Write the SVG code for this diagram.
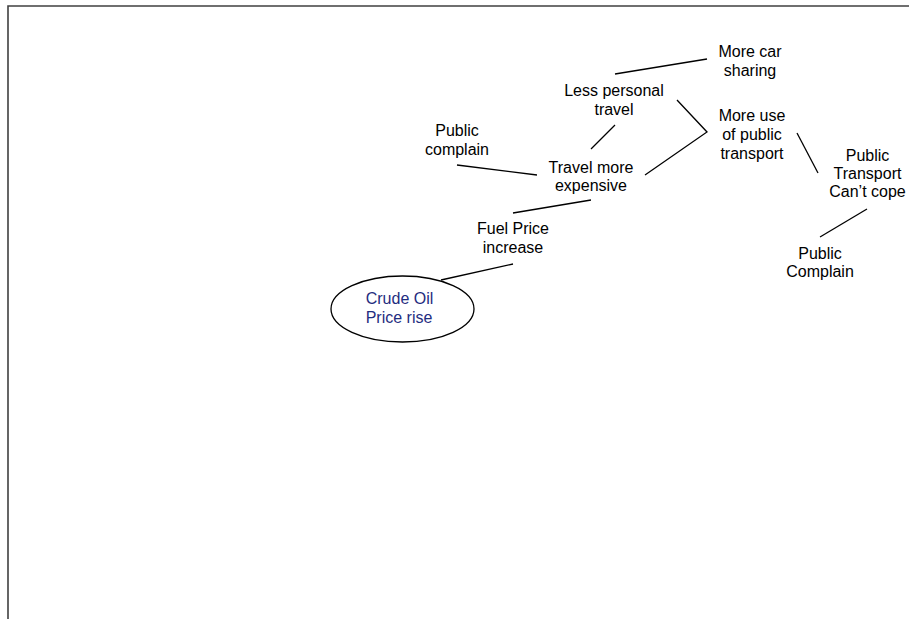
<svg xmlns="http://www.w3.org/2000/svg" width="909" height="619" viewBox="0 0 909 619">
<style>
.t{font-family:"Liberation Sans",Arial,sans-serif;font-size:16px;fill:#000;text-anchor:middle}
.b{fill:#1f2d80}
.c{stroke:#000;stroke-width:1.3;fill:none}
.frame{stroke:#404040;stroke-width:1.6;fill:none}
</style>
<rect width="909" height="619" fill="#fff"/>
<path class="frame" d="M8,619 V6 H909"/>
<g id="connectors">
<line class="c" x1="441" y1="280" x2="513" y2="264"/>
<line class="c" x1="513" y1="213" x2="591" y2="200"/>
<line class="c" x1="457" y1="165" x2="537" y2="175"/>
<line class="c" x1="591" y1="149" x2="615" y2="125"/>
<line class="c" x1="615" y1="74" x2="707" y2="59"/>
<polyline class="c" points="677,100 707,132 645,175"/>
<line class="c" x1="797" y1="133" x2="818" y2="173"/>
<line class="c" x1="867" y1="209" x2="820" y2="237"/>
</g>
<g id="crude-oil">
<ellipse cx="402.5" cy="309" rx="71.5" ry="33" fill="#fff" stroke="#000" stroke-width="1.3"/>
<text class="t b" x="399.5" y="304">Crude Oil</text>
<text class="t b" x="399" y="323">Price rise</text>
</g>
<g id="fuel-price">
<text class="t" x="513" y="234">Fuel Price</text>
<text class="t" x="513" y="253">increase</text>
</g>
<g id="travel-expensive">
<text class="t" x="591" y="173">Travel more</text>
<text class="t" x="591" y="191">expensive</text>
</g>
<g id="public-complain-1">
<text class="t" x="457" y="136">Public</text>
<text class="t" x="457" y="155">complain</text>
</g>
<g id="less-personal">
<text class="t" x="614" y="96">Less personal</text>
<text class="t" x="614" y="115">travel</text>
</g>
<g id="car-sharing">
<text class="t" x="750" y="57">More car</text>
<text class="t" x="750" y="76">sharing</text>
</g>
<g id="public-transport-use">
<text class="t" x="752" y="121">More use</text>
<text class="t" x="752" y="140">of public</text>
<text class="t" x="752" y="159">transport</text>
</g>
<g id="cant-cope">
<text class="t" x="867.5" y="161">Public</text>
<text class="t" x="867.5" y="179">Transport</text>
<text class="t" x="867.5" y="197">Can’t cope</text>
</g>
<g id="public-complain-2">
<text class="t" x="820" y="259">Public</text>
<text class="t" x="820" y="277">Complain</text>
</g>
</svg>
